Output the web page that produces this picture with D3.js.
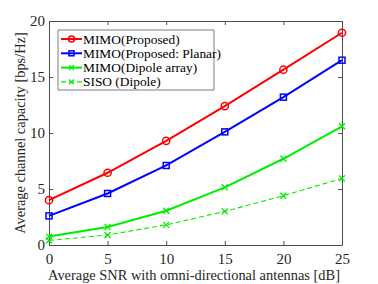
<!DOCTYPE html>
<html>
<head>
<meta charset="utf-8">
<script src="https://cdn.jsdelivr.net/npm/d3@7"></script>
<style>
  body { margin: 0; background: #fff; }
  svg { display: block; font-family: "Liberation Serif", "DejaVu Serif", serif; }
</style>
</head>
<body>
<div id="chart"></div>
<script>
const snr = [0, 5, 10, 15, 20, 25];
const mimoProposed = [4.0, 6.45, 9.3, 12.4, 15.65, 18.95];
const mimoPlanar = [2.6, 4.6, 7.1, 10.1, 13.2, 16.5];
const mimoDipole = [0.75, 1.6, 3.06, 5.15, 7.7, 10.6];
const sisoDipole = [0.4, 0.9, 1.8, 3.0, 4.4, 5.95];
const xTicks = [0, 5, 10, 15, 20, 25];
const yTicks = [0, 5, 10, 15, 20];

const series = [
  { name: 'MIMO(Proposed)', values: mimoProposed, color: '#ff0000', marker: 'circle', dash: null },
  { name: 'MIMO(Proposed: Planar)', values: mimoPlanar, color: '#0000ff', marker: 'square', dash: null },
  { name: 'MIMO(Dipole array)', values: mimoDipole, color: '#00ee00', marker: 'x', dash: null },
  { name: 'SISO (Dipole)', values: sisoDipole, color: '#00ee00', marker: 'x', dash: '5,3', thin: true }
];

const width = 378, height = 284;
const margin = { top: 21, right: 36, bottom: 39, left: 49 };
const w = width - margin.left - margin.right;
const h = height - margin.top - margin.bottom;

const svg = d3.select('#chart').append('svg').attr('width', width).attr('height', height);
const g = svg.append('g').attr('transform', `translate(${margin.left},${margin.top})`);

const x = d3.scaleLinear().domain([0, 25]).range([0, w]);
const y = d3.scaleLinear().domain([0, 20]).range([h, 0]);

const axisColor = '#4d4d4d';
function styleAxis(sel) {
  sel.select('.domain').attr('stroke', axisColor);
  sel.selectAll('.tick line').attr('stroke', axisColor);
  sel.selectAll('.tick text').attr('fill', '#262626').attr('font-size', 15)
    .attr('font-family', '"Liberation Serif", serif');
}

g.append('g').attr('transform', `translate(0,${h})`)
  .call(d3.axisBottom(x).tickValues(xTicks).tickSizeInner(-4).tickSizeOuter(0).tickPadding(8))
  .call(styleAxis);
g.append('g')
  .call(d3.axisLeft(y).tickValues(yTicks).tickSizeInner(-4).tickSizeOuter(0).tickPadding(4))
  .call(styleAxis);
g.append('g')
  .call(d3.axisTop(x).tickValues(xTicks).tickSizeInner(-4).tickSizeOuter(0).tickFormat(''))
  .call(styleAxis);
g.append('g').attr('transform', `translate(${w},0)`)
  .call(d3.axisRight(y).tickValues(yTicks).tickSizeInner(-4).tickSizeOuter(0).tickFormat(''))
  .call(styleAxis);

function drawMarker(sel, type, color, size) {
  if (type === 'circle') {
    sel.append('circle').attr('r', size * 0.6).attr('fill', 'none').attr('stroke', color).attr('stroke-width', 1.5);
  } else if (type === 'square') {
    sel.append('rect').attr('x', -size / 2).attr('y', -size / 2).attr('width', size).attr('height', size)
      .attr('fill', 'none').attr('stroke', color).attr('stroke-width', 1.5);
  } else {
    const s = size / 2;
    sel.append('path').attr('d', `M${-s},${-s}L${s},${s}M${-s},${s}L${s},${-s}`)
      .attr('stroke', color).attr('stroke-width', 1.3);
  }
}

const line = d3.line().x((d, i) => x(snr[i])).y(d => y(d));

series.forEach(s => {
  g.append('path').datum(s.values)
    .attr('d', line)
    .attr('fill', 'none')
    .attr('stroke', s.color)
    .attr('stroke-width', s.thin ? 1.1 : 2)
    .attr('stroke-dasharray', s.dash);
  g.selectAll(null).data(s.values).enter().append('g')
    .attr('transform', (d, i) => `translate(${x(snr[i])},${y(d)})`)
    .each(function () { drawMarker(d3.select(this), s.marker, s.color, 6); });
});

// legend
const legend = g.append('g').attr('transform', 'translate(9,9)');
legend.append('rect').attr('width', 156).attr('height', 60)
  .attr('fill', '#fff').attr('stroke', '#7f7f7f').attr('stroke-width', 1);
series.forEach((s, i) => {
  const ly = 9 + i * 14.3;
  const row = legend.append('g').attr('transform', `translate(0,${ly})`);
  row.append('line').attr('x1', 3).attr('x2', 24).attr('y1', 0).attr('y2', 0)
    .attr('stroke', s.color).attr('stroke-width', s.thin ? 1.1 : 2).attr('stroke-dasharray', s.dash);
  drawMarker(row.append('g').attr('transform', 'translate(13.5,0)'), s.marker, s.color, 5);
  row.append('text').attr('x', 25).attr('y', 4.5).attr('font-size', 13.4).attr('fill', '#000').text(s.name);
});

svg.append('text')
  .attr('x', 194).attr('y', 280)
  .attr('text-anchor', 'middle').attr('font-size', 14.4).attr('fill', '#262626')
  .text('Average SNR with omni-directional antennas [dB]');
svg.append('text')
  .attr('transform', `translate(25,133) rotate(-90)`)
  .attr('text-anchor', 'middle').attr('font-size', 14.4).attr('fill', '#262626')
  .text('Average channel capacity [bps/Hz]');
</script>
</body>
</html>
